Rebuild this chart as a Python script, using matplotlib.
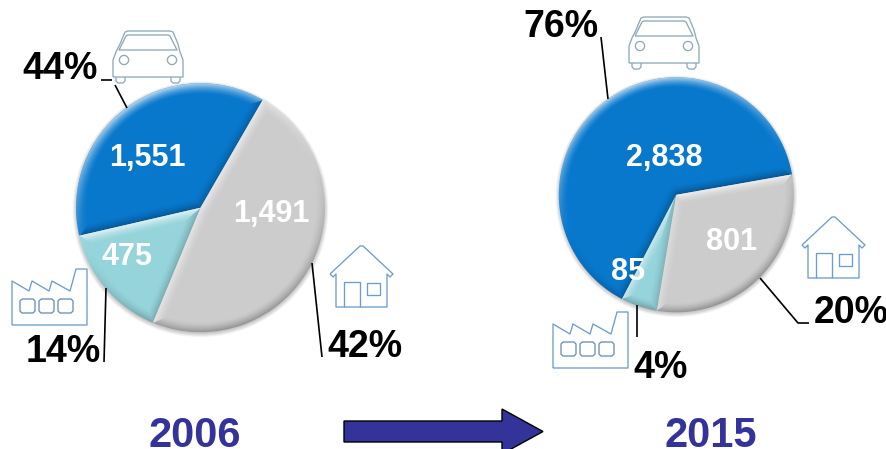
import numpy as np
import matplotlib
matplotlib.use("Agg")
import matplotlib.pyplot as plt
from matplotlib.patches import Polygon, Circle

W, H = 887, 449
plt.rcParams['font.family'] = ['Liberation Sans', 'DejaVu Sans']

# ---- data ----
segments = ['Car', 'Factory', 'House']
year_labels = ['2006', '2015']
value_labels_2006 = ['1,551', '475', '1,491']
value_labels_2015 = ['2,838', '85', '801']
share_labels_2006 = ['44%', '14%', '42%']
share_labels_2015 = ['76%', '4%', '20%']
# slice sizes as drawn in the picture (degrees of sweep)
drawn_sweep_2006 = [133.0, 54.5, 172.5]
drawn_sweep_2015 = [232.5, 18.0, 109.5]
colors = ['#0878CC', '#96D4DC', '#CCCCCC']

fig = plt.figure(figsize=(W / 100, H / 100), dpi=100, facecolor='white')
LIGHT = np.array([-0.35, 0.94])


def ray_distance(X, Y, a):
    t = np.maximum(0, X * np.cos(a) + Y * np.sin(a))
    return np.hypot(X - t * np.cos(a), Y - t * np.sin(a))


def bevel_overlay(ax, start, sweep, patch, width=0.085, strength=0.75):
    n = 500
    xs = np.linspace(-1.02, 1.02, n)
    X, Y = np.meshgrid(xs, xs)
    R = np.hypot(X, Y) + 1e-9
    a0, a1 = np.radians(start), np.radians(start + sweep)
    d_arc = np.abs(1 - R)
    d0 = ray_distance(X, Y, a0)
    d1 = ray_distance(X, Y, a1)
    n0 = np.array([np.sin(a0), -np.cos(a0)])
    n1 = np.array([-np.sin(a1), np.cos(a1)])
    dmin = np.minimum(np.minimum(d_arc, d0), d1)
    shade = np.where(d_arc == dmin, (X / R) * LIGHT[0] + (Y / R) * LIGHT[1], 0.0)
    shade = np.where(d0 == dmin, n0 @ LIGHT, shade)
    shade = np.where(d1 == dmin, n1 @ LIGHT, shade)
    fall = np.clip(1 - dmin / width, 0, 1) ** 1.5
    amt = shade * fall * strength
    rgba = np.zeros((n, n, 4))
    rgba[..., :3] = (amt > 0)[..., None] * 1.0
    rgba[..., 3] = np.clip(np.abs(amt) * np.where(amt > 0, 0.9, 0.4), 0, 1)
    im = ax.imshow(rgba, extent=(-1.02, 1.02, -1.02, 1.02), origin='lower',
                   zorder=5, interpolation='bilinear')
    im.set_clip_path(patch)


def draw_pie(cx, cy, r, sweeps, start):
    lim = 1.12
    size = r * lim
    ax = fig.add_axes([(cx - size) / W, 1 - (cy + size) / H, 2 * size / W, 2 * size / H])
    ax.set_facecolor('none')
    # soft drop shadow
    for k in range(8):
        ax.add_patch(Circle((0.0, -0.012), 1.028 - k * 0.005, fc='#000000',
                            alpha=0.03, ec='none', zorder=1))
    wedges, _ = ax.pie(sweeps, colors=colors, startangle=start, counterclock=True,
                       radius=1.0, wedgeprops=dict(linewidth=0, zorder=3))
    ang = start
    for w, s in zip(wedges, sweeps):
        w.set_zorder(3)
        bevel_overlay(ax, ang, s, w)
        ang += s
    ax.set_xlim(-lim, lim)
    ax.set_ylim(-lim, lim)
    ax.set_aspect('equal')
    ax.axis('off')


draw_pie(200.5, 207.7, 124.5, drawn_sweep_2006, 60)
draw_pie(676.3, 194.8, 117.5, drawn_sweep_2015, 10)

# overlay in image pixel coordinates
ov = fig.add_axes([0, 0, 1, 1], zorder=10)
ov.set_xlim(0, W)
ov.set_ylim(H, 0)
ov.axis('off')
ov.patch.set_alpha(0)


def line(pts, color='black', lw=1.2, ox=0, oy=0):
    p = np.array(pts, float) + [ox, oy]
    ov.plot(p[:, 0], p[:, 1], color=color, lw=lw, solid_capstyle='butt')


def car(ox, oy):
    c = '#8FA9B8'
    lw = 0.95
    line([(0, 47), (0, 30), (3, 22), (7, 14), (12, 2), (15, 1), (57, 1), (60, 2), (65, 14),
          (67, 22), (70, 30), (70, 47), (0, 47)], c, lw, ox, oy)
    line([(6, 20), (13, 6), (15, 5), (55, 5), (57, 6), (64, 20), (6, 20)], c, lw, ox, oy)
    t = np.linspace(0, 2 * np.pi, 40)
    for x in (11, 59):
        line(np.c_[x + 4.6 * np.cos(t), 30 + 4.6 * np.sin(t)], c, lw, ox, oy)
    for x in (3, 58):
        line([(x, 47), (x, 51), (x + 2, 53), (x + 7, 53), (x + 9, 51), (x + 9, 47)], c, lw, ox, oy)


def house(ox, oy):
    c = '#6E9CCB'
    lw = 0.95
    line([(0, 28), (30, 0), (33, 0), (63, 28), (60, 31), (57, 28), (57, 61), (6, 61), (6, 28),
          (3, 31), (0, 28)], c, lw, ox, oy)
    line([(14, 61), (14, 36), (30, 36), (30, 61)], c, lw, ox, oy)
    line([(37, 37), (50, 37), (50, 49), (37, 49), (37, 37)], c, lw, ox, oy)


def factory(ox, oy):
    c = '#6E9CCB'
    lw = 0.95
    line([(0, 57), (0, 13), (17, 23), (20, 13), (37, 23), (40, 13), (58, 23),
          (64, 1), (75, 1), (75, 57), (0, 57)], c, lw, ox, oy)
    for x in (8, 27, 46):
        line([(x + 2, 31), (x + 13, 31), (x + 15, 33), (x + 15, 43), (x + 13, 45), (x + 2, 45),
              (x, 43), (x, 33), (x + 2, 31)], '#6A8FB8', lw, ox, oy)


car(113, 30)
car(629, 16)
house(330, 246)
house(802, 217)
factory(12, 268)
factory(553, 311)

# leader lines
line([(101, 80), (112, 80)])
line([(115, 85), (127, 108)])
line([(106, 288), (104, 362)])
line([(312, 263), (322, 357)])
line([(601, 37), (608, 99)])
line([(637, 305), (637, 337)])
line([(760, 278), (798, 323), (809, 323)])

# labels
kw = dict(ha='center', va='baseline', fontweight='bold')
for s, (x, y) in zip(share_labels_2006, [(60, 79), (63.5, 362), (364.5, 357)]):
    ov.text(x, y, s, fontsize=27, color='black', **kw)
for s, (x, y) in zip(share_labels_2015, [(560.5, 37), (660.5, 378), (851, 323)]):
    ov.text(x, y, s, fontsize=27, color='black', **kw)
for s, (x, y) in zip(value_labels_2006, [(147, 166), (127, 265), (271, 222)]):
    ov.text(x, y, s, fontsize=22, color='white', **kw)
for s, (x, y) in zip(value_labels_2015, [(664, 166), (628, 280), (732, 250)]):
    ov.text(x, y, s, fontsize=22, color='white', **kw)
for s, x in zip(year_labels, [194.5, 711]):
    ov.text(x, 447, s, fontsize=30, color='#333399', **kw)

# arrow
ov.add_patch(Polygon([(344, 421), (502, 421), (502, 409), (543, 431.5), (502, 454),
                      (502, 442), (344, 442)], closed=True, fc='#333399', ec='black', lw=1.0,
                     joinstyle='miter'))

fig.savefig('out.png', dpi=100, facecolor='white')
